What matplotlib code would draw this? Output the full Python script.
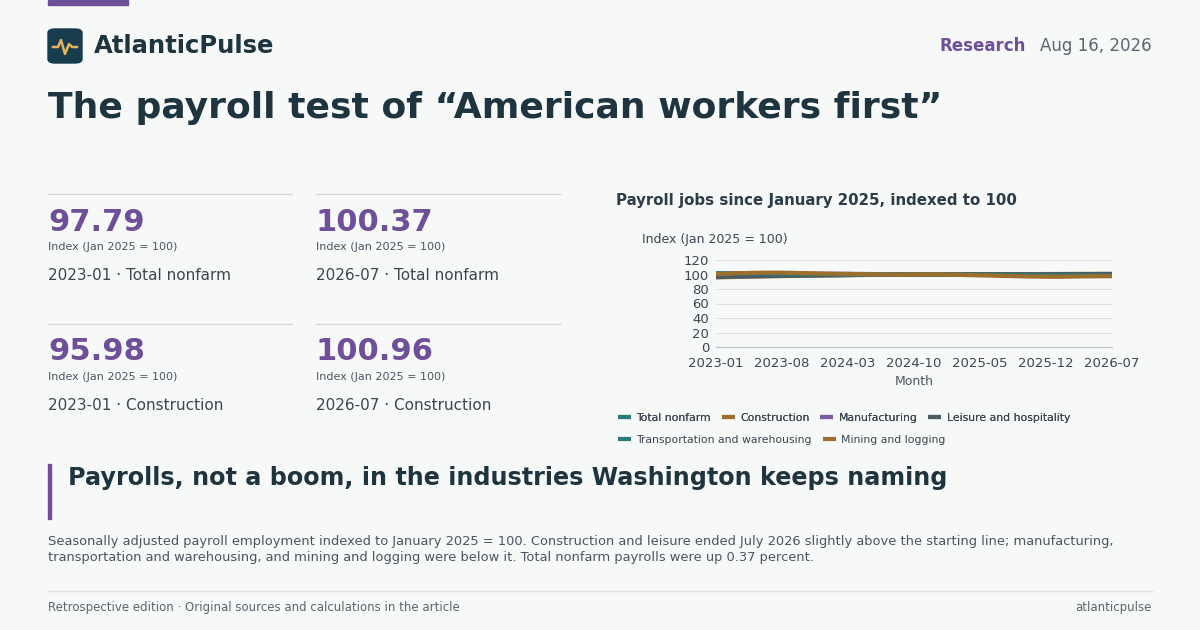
import matplotlib
matplotlib.use("Agg")
import matplotlib.pyplot as plt
from matplotlib.patches import FancyBboxPatch, Rectangle
from matplotlib.lines import Line2D
import numpy as np

months = [f"{y}-{m:02d}" for y in (2023, 2024, 2025, 2026) for m in range(1, 13)][:43]
tick_labels = ["2023-01", "2023-08", "2024-03", "2024-10", "2025-05", "2025-12", "2026-07"]

total_nonfarm = [97.79, 97.95, 98.10, 98.22, 98.35, 98.45, 98.56, 98.66, 98.78, 98.86, 98.97, 99.08,
                 99.16, 99.25, 99.38, 99.45, 99.52, 99.58, 99.63, 99.70, 99.76, 99.82, 99.90, 99.96,
                 100.00, 100.06, 100.11, 100.15, 100.17, 100.19, 100.21, 100.22, 100.24, 100.25, 100.27, 100.28,
                 100.30, 100.31, 100.32, 100.34, 100.35, 100.36, 100.37]
construction = [95.98, 96.30, 96.60, 96.85, 97.10, 97.35, 97.55, 97.80, 98.00, 98.20, 98.40, 98.60,
                98.75, 98.90, 99.10, 99.25, 99.40, 99.50, 99.60, 99.70, 99.80, 99.85, 99.92, 99.97,
                100.00, 100.10, 100.20, 100.25, 100.30, 100.35, 100.40, 100.45, 100.50, 100.55, 100.60, 100.65,
                100.70, 100.75, 100.80, 100.85, 100.88, 100.92, 100.96]
manufacturing = [101.2, 101.3, 101.4, 101.4, 101.5, 101.5, 101.4, 101.4, 101.3, 101.2, 101.2, 101.1,
                 101.0, 100.9, 100.9, 100.8, 100.7, 100.6, 100.5, 100.4, 100.3, 100.2, 100.1, 100.05,
                 100.0, 99.9, 99.8, 99.7, 99.6, 99.5, 99.4, 99.3, 99.25, 99.2, 99.1, 99.05,
                 99.0, 98.95, 98.9, 98.9, 98.85, 98.8, 98.8]
leisure = [96.5, 96.8, 97.1, 97.4, 97.6, 97.8, 98.0, 98.2, 98.4, 98.6, 98.7, 98.9,
           99.0, 99.1, 99.2, 99.3, 99.4, 99.5, 99.55, 99.6, 99.7, 99.8, 99.85, 99.95,
           100.0, 100.05, 100.1, 100.1, 100.15, 100.2, 100.2, 100.25, 100.3, 100.3, 100.35, 100.4,
           100.4, 100.45, 100.5, 100.5, 100.55, 100.6, 100.6]
transport = [101.8, 101.7, 101.6, 101.5, 101.3, 101.2, 101.0, 100.9, 100.8, 100.6, 100.5, 100.4,
             100.3, 100.2, 100.2, 100.1, 100.1, 100.0, 100.0, 99.9, 99.9, 100.0, 100.0, 100.0,
             100.0, 99.9, 99.8, 99.7, 99.6, 99.5, 99.4, 99.3, 99.2, 99.1, 99.0, 98.9,
             98.9, 98.8, 98.8, 98.7, 98.7, 98.6, 98.6]
mining = [100.5, 101.0, 101.5, 102.0, 102.3, 102.5, 102.6, 102.5, 102.3, 102.0, 101.7, 101.4,
          101.2, 101.0, 100.8, 100.5, 100.3, 100.1, 99.9, 99.8, 99.8, 99.9, 100.0, 100.0,
          100.0, 99.7, 99.4, 99.1, 98.8, 98.5, 98.2, 97.9, 97.6, 97.3, 97.1, 96.9,
          96.8, 97.0, 97.2, 97.4, 97.5, 97.6, 97.7]

series_names = ["Total nonfarm", "Construction", "Manufacturing", "Leisure and hospitality",
                "Transportation and warehousing", "Mining and logging"]
series_vals = [total_nonfarm, construction, manufacturing, leisure, transport, mining]
colors = ["#2b7a74", "#9c6f2c", "#7b5ca0", "#4b5c68", "#2b7a74", "#9c6f2c"]

kpi_values = ["97.79", "100.37", "95.98", "100.96"]
kpi_labels = ["2023-01 · Total nonfarm", "2026-07 · Total nonfarm", "2023-01 · Construction", "2026-07 · Construction"]

BG = "#f7f8f8"
DARK = "#1e3540"
PURPLE = "#6e4f98"
GREY = "#4a5560"

fig = plt.figure(figsize=(12, 6.3), dpi=100, facecolor=BG)

def T(x, y, s, **kw):
    kw.setdefault("va", "center")
    fig.text(x / 1200, 1 - y / 630, s, **kw)

fig.add_artist(Rectangle((48 / 1200, 1 - 5 / 630), 80 / 1200, 5 / 630, transform=fig.transFigure, color=PURPLE))
fig.add_artist(FancyBboxPatch((48 / 1200, 1 - 63 / 630), 34 / 1200, 34 / 630, boxstyle="round,pad=0,rounding_size=0.006",
                              transform=fig.transFigure, color="#173c4e"))
lx = np.array([53, 58, 61, 65, 69, 72, 77]) / 1200
ly = 1 - np.array([47, 47, 40, 54, 44, 47, 47]) / 630
fig.add_artist(Line2D(lx, ly, transform=fig.transFigure, color="#e3b45c", lw=1.8))
T(94, 46, "AtlanticPulse", fontsize=17.5, fontweight="bold", color=DARK)
T(1026, 46, "Research", fontsize=12, fontweight="bold", color=PURPLE, ha="right")
T(1152, 46, "Aug 16, 2026", fontsize=12, color="#5a6670", ha="right")

T(48, 108, "The payroll test of \u201cAmerican workers first\u201d", fontsize=26, fontweight="bold", color=DARK)

pos = [(48, 194), (316, 194), (48, 324), (316, 324)]
for (x, y), v, l in zip(pos, kpi_values, kpi_labels):
    fig.add_artist(Line2D([x / 1200, (x + 244) / 1200], [1 - y / 630] * 2, transform=fig.transFigure, color="#d5d9dc", lw=1))
    T(x, y + 28, v, fontsize=22, fontweight="bold", color=PURPLE)
    T(x, y + 53, "Index (Jan 2025 = 100)", fontsize=8, color=GREY)
    T(x, y + 81, l, fontsize=11, color="#3a4650")

T(616, 201, "Payroll jobs since January 2025, indexed to 100", fontsize=10.8, fontweight="bold", color="#2c3d48")
ax = fig.add_axes([716 / 1200, 1 - 347 / 630, 396 / 1200, 87 / 630])
ax.set_facecolor(BG)
x = np.arange(len(months))
for name, vals, c in zip(series_names, series_vals, colors):
    ax.plot(x, vals, color=c, lw=3, label=name, solid_capstyle="butt")
ax.set_ylim(0, 120)
ax.set_yticks(range(0, 121, 20))
ax.set_xlim(0, len(months) - 1)
ax.set_xticks([months.index(t) for t in tick_labels])
ax.set_xticklabels(tick_labels)
ax.grid(axis="y", color="#dde1e3", lw=0.8)
for s in ["top", "right", "left"]:
    ax.spines[s].set_visible(False)
ax.spines["bottom"].set_color("#b8bec2")
ax.tick_params(length=0, labelsize=9.5, colors="#3a4650")
ax.tick_params(axis="x", pad=7)
ax.tick_params(axis="y", pad=5)
ax.set_xlabel("Month", fontsize=9, color="#4a5560", labelpad=4)
T(642, 239, "Index (Jan 2025 = 100)", fontsize=9, color="#3a4650")

handles, labels = ax.get_legend_handles_labels()
leg = fig.legend(handles[:4], labels[:4], loc="upper left", bbox_to_anchor=(608 / 1200, 1 - 403 / 630), ncol=4,
                 frameon=False, fontsize=7.8, handlelength=1.2, handletextpad=0.5, columnspacing=1.0, labelcolor="#3a4650")
fig.add_artist(leg)
fig.legend(handles[4:], labels[4:], loc="upper left", bbox_to_anchor=(608 / 1200, 1 - 425 / 630), ncol=2,
           frameon=False, fontsize=7.8, handlelength=1.2, handletextpad=0.5, columnspacing=1.0, labelcolor="#3a4650")

fig.add_artist(Rectangle((48 / 1200, 1 - 519 / 630), 3 / 1200, 55 / 630, transform=fig.transFigure, color=PURPLE))
T(68, 478, "Payrolls, not a boom, in the industries Washington keeps naming", fontsize=17.2, fontweight="bold", color=DARK)
T(48, 550, "Seasonally adjusted payroll employment indexed to January 2025 = 100. Construction and leisure ended July 2026 slightly above the starting line; manufacturing,\ntransportation and warehousing, and mining and logging were below it. Total nonfarm payrolls were up 0.37 percent.",
  fontsize=9.35, color="#4a5560", linespacing=1.3)

fig.add_artist(Line2D([48 / 1200, 1152 / 1200], [1 - 591 / 630] * 2, transform=fig.transFigure, color="#dde1e3", lw=1))
T(48, 608, "Retrospective edition · Original sources and calculations in the article", fontsize=8.5, color="#5a6670")
T(1152, 608, "atlanticpulse", fontsize=8.5, color="#5a6670", ha="right")

fig.savefig("out.png", dpi=100, facecolor=BG)
